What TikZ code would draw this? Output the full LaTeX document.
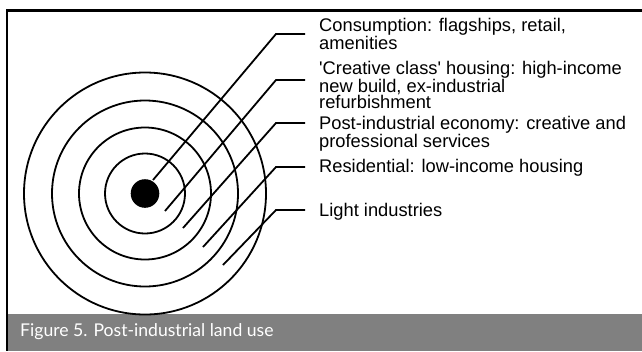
\documentclass[tikz,border=0pt]{standalone}
\usepackage{fontspec}
\setmainfont{Liberation Sans}
\newfontfamily\capfont{Lato}
\begin{document}
\begin{tikzpicture}[x=1pt,y=-1pt,
  ring/.style={draw=black,line width=1.8pt},
  leader/.style={draw=black,line width=1.8pt},
  zonelabel/.style={anchor=base west,align=left,inner sep=0pt,
    font=\fontsize{18.3}{16.6}\selectfont},
  captext/.style={anchor=base west,inner sep=0pt,text=white,
    font=\capfont\fontsize{17.6}{20}\selectfont}]
\useasboundingbox (0,0) rectangle (642,351);
% caption bar and frame
\fill[black!50] (7,313.5) rectangle (642,351);
\draw[line width=2.6pt] (642,10.5) -- (7,10.5) -- (7,351);
% concentric zones
\coordinate (c) at (145,193.5);
\draw[ring] (c) circle (40);
\draw[ring] (c) circle (66);
\draw[ring] (c) circle (93);
\draw[ring] (c) circle (121);
\fill[black] (c) circle (14.3);
% leader start points inside each zone
\coordinate (s1) at (153,180);
\coordinate (s2) at (165,211);
\coordinate (s3) at (183,228);
\coordinate (s4) at (203,247);
\coordinate (s5) at (223,265);
% elbows and free ends
\coordinate (k1) at (276,34);   \coordinate (e1) at (305,34);
\coordinate (k2) at (276,80);   \coordinate (e2) at (305,80);
\coordinate (k3) at (276,123);  \coordinate (e3) at (305,123);
\coordinate (k4) at (276,167);  \coordinate (e4) at (305,167);
\coordinate (k5) at (276,210);  \coordinate (e5) at (305,210);
\foreach \i in {1,...,5}{\draw[leader] (s\i) -- (k\i) -- (e\i);}
% zone labels (base anchor sits on the last line)
\node[zonelabel] (l1) at (319,49.9) {Consumption: flagships, retail,\\amenities};
\node[zonelabel] (l2) at (319,108.7) {\textquotesingle Creative class\textquotesingle{} housing: high-income\\new build, ex-industrial\\refurbishment};
\node[zonelabel] (l3) at (319,147.5) {Post-industrial economy: creative and\\professional services};
\node[zonelabel] (l4) at (319,172) {Residential: low-income housing};
\node[zonelabel] (l5) at (319,216.5) {Light industries};
% caption
\node[captext] (cap) at (20,336) {Figure 5. Post-industrial land use};
\end{tikzpicture}
\end{document}
